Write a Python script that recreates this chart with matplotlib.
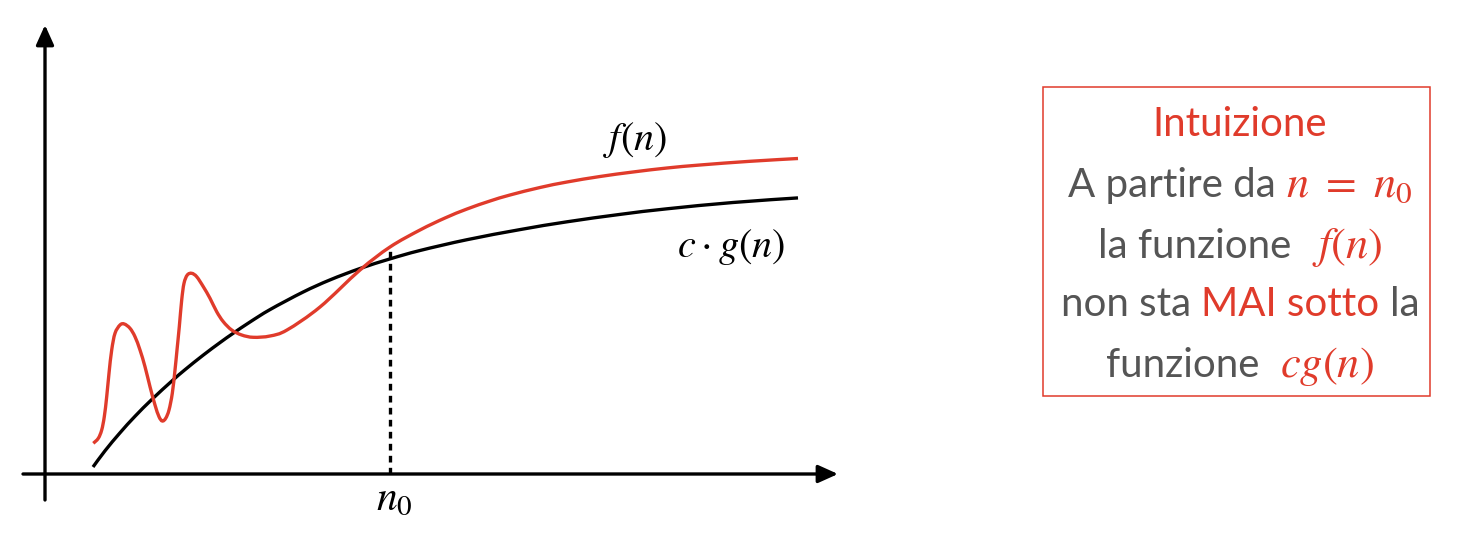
import matplotlib
matplotlib.use("Agg")
import matplotlib.pyplot as plt
from matplotlib.patches import Rectangle, PathPatch
from matplotlib.path import Path

plt.rcParams['mathtext.fontset'] = 'stix'
plt.rcParams['font.family'] = ['Lato', 'DejaVu Sans']

RED = '#E03B2B'
GRAY = '#555555'

# ---- data (units: arbitrary, origin at axes crossing) ----
f_n = [4.83, 5.33, 5.67, 5.93, 6.17, 6.40, 6.67, 7.00, 7.50, 7.93, 8.50, 9.00, 9.50,
       10.00, 10.50, 11.00, 11.40, 11.73, 12.07, 12.40, 12.73, 13.00, 13.20, 13.43,
       13.67, 13.90, 14.23, 14.67, 15.17, 15.83, 16.50, 17.17, 17.83, 18.67, 19.67,
       20.83, 22.50, 24.20, 27.50, 31.50, 34.50, 37.50, 40.00, 42.20, 44.50, 46.50,
       49.50, 52.20, 55.50, 58.80, 62.20, 65.50, 70.50, 75.30]
f_val = [3.07, 3.57, 4.40, 5.73, 7.73, 10.07, 12.40, 14.07, 14.90, 15.00, 14.57, 13.73,
         12.40, 10.73, 8.73, 6.90, 5.73, 5.30, 5.57, 6.40, 8.07, 10.40, 12.40, 14.73,
         17.40, 19.07, 19.90, 20.07, 19.73, 18.73, 17.57, 16.23, 15.23, 14.40, 13.90,
         13.67, 13.80, 14.40, 16.70, 20.40, 22.70, 24.40, 25.60, 26.50, 27.30, 27.90,
         28.65, 29.20, 29.75, 30.20, 30.60, 30.90, 31.27, 31.55]

g_n = [4.8, 6.0, 7.5, 9.0, 10.7, 12.7, 14.0, 15.8, 17.5, 18.8, 20.5, 22.5, 25.8, 28.5,
       31.5, 34.5, 37.5, 42.2, 47.5, 52.2, 57.5, 62.2, 68.8, 75.3]
g_val = [0.70, 2.32, 4.12, 5.77, 7.47, 9.31, 10.43, 11.87, 13.14, 14.06, 15.20, 16.44,
         18.19, 19.41, 20.55, 21.51, 22.35, 23.43, 24.44, 25.22, 25.96, 26.52, 27.15,
         27.61]

n0 = 34.5
f_at_n0 = 22.4

x_axis = [-2.2, 79.3]
y_axis = [-2.6, 44.9]

label_f = r'$f(n)$'
label_g = r'$c\cdot g(n)$'
label_n0 = r'$n_0$'

box_title = 'Intuizione'
box_lines = [
    [('A partire da', GRAY, 1), (r'$n\ =\ n_0$', RED, 0)],
    [('la funzione', GRAY, 2), (r'$f(n)$', RED, 0)],
    [('non sta', GRAY, 1), ('MAI sotto', RED, 1), ('la', GRAY, 0)],
    [('funzione', GRAY, 2), (r'$cg(n)$', RED, 0)],
]


def smooth_path(xs, ys):
    """Bezier path passing through the given points (Catmull-Rom tangents)."""
    pts = list(zip(xs, ys))
    verts = [pts[0]]
    codes = [Path.MOVETO]
    n = len(pts)
    for i in range(n - 1):
        p0 = pts[i - 1] if i > 0 else pts[i]
        p1 = pts[i]
        p2 = pts[i + 1]
        p3 = pts[i + 2] if i + 2 < n else pts[i + 1]
        c1 = (p1[0] + (p2[0] - p0[0]) / 6, p1[1] + (p2[1] - p0[1]) / 6)
        c2 = (p2[0] - (p3[0] - p1[0]) / 6, p2[1] - (p3[1] - p1[1]) / 6)
        verts += [c1, c2, p2]
        codes += [Path.CURVE4] * 3
    return Path(verts, codes)


# ---- figure ----
fig = plt.figure(figsize=(14.64, 5.46), dpi=100)
ax = fig.add_axes([0, 0, 1, 1])
ax.set_xlim(-4.5, 141.9)
ax.set_ylim(-7.2, 47.4)
ax.axis('off')

arrow_kw = dict(arrowstyle='-|>,head_length=0.6,head_width=0.27', mutation_scale=20,
                lw=2.4, color='black', shrinkA=0, shrinkB=0)
ax.annotate('', xy=(x_axis[1], 0), xytext=(x_axis[0], 0), arrowprops=arrow_kw)
ax.annotate('', xy=(0, y_axis[1]), xytext=(0, y_axis[0]), arrowprops=arrow_kw)

ax.add_patch(PathPatch(smooth_path(g_n, g_val), fill=False, edgecolor='black',
                       lw=2.4, capstyle='butt'))
ax.add_patch(PathPatch(smooth_path(f_n, f_val), fill=False, edgecolor=RED,
                       lw=2.4, capstyle='butt'))
ax.plot([n0, n0], [0, f_at_n0], color='black', lw=2.4, ls=(0, (2.0, 1.6)))

ax.text(59.05, 32.4, label_f, fontsize=29, ha='center', va='baseline')
ax.text(68.6, 21.7, label_g, fontsize=29, ha='center', va='baseline')
ax.text(n0 + 0.4, -3.5, label_n0, fontsize=30, ha='center', va='baseline')

# box
ax.add_patch(Rectangle((99.8, 7.8), 38.7, 30.9, fill=False, edgecolor=RED, lw=1.1))

xc = 119.5
FS = 29
ax.text(xc, 33.8, box_title, fontsize=FS, color=RED, ha='center', va='baseline')

renderer = fig.canvas.get_renderer()
px_per_unit = ax.transData.transform((1, 0))[0] - ax.transData.transform((0, 0))[0]


def width_units(t):
    return t.get_window_extent(renderer).width / px_per_unit


tmp1 = ax.text(0, 0, 'a a', fontsize=FS)
tmp2 = ax.text(0, 0, 'aa', fontsize=FS)
space_w = width_units(tmp1) - width_units(tmp2)
tmp1.remove(); tmp2.remove()

baselines = [27.7, 21.6, 15.8, 9.7]
for parts, yb in zip(box_lines, baselines):
    texts = []
    total = 0
    for s, col, gap in parts:
        t = ax.text(0, yb, s, fontsize=FS + (3 if s.startswith('$') else 0), color=col,
                    ha='left', va='baseline')
        w = width_units(t)
        texts.append((t, w, gap))
        total += w + gap * space_w
    x = xc - total / 2
    for t, w, gap in texts:
        t.set_x(x)
        x += w + gap * space_w

fig.savefig('out.png', dpi=100)
